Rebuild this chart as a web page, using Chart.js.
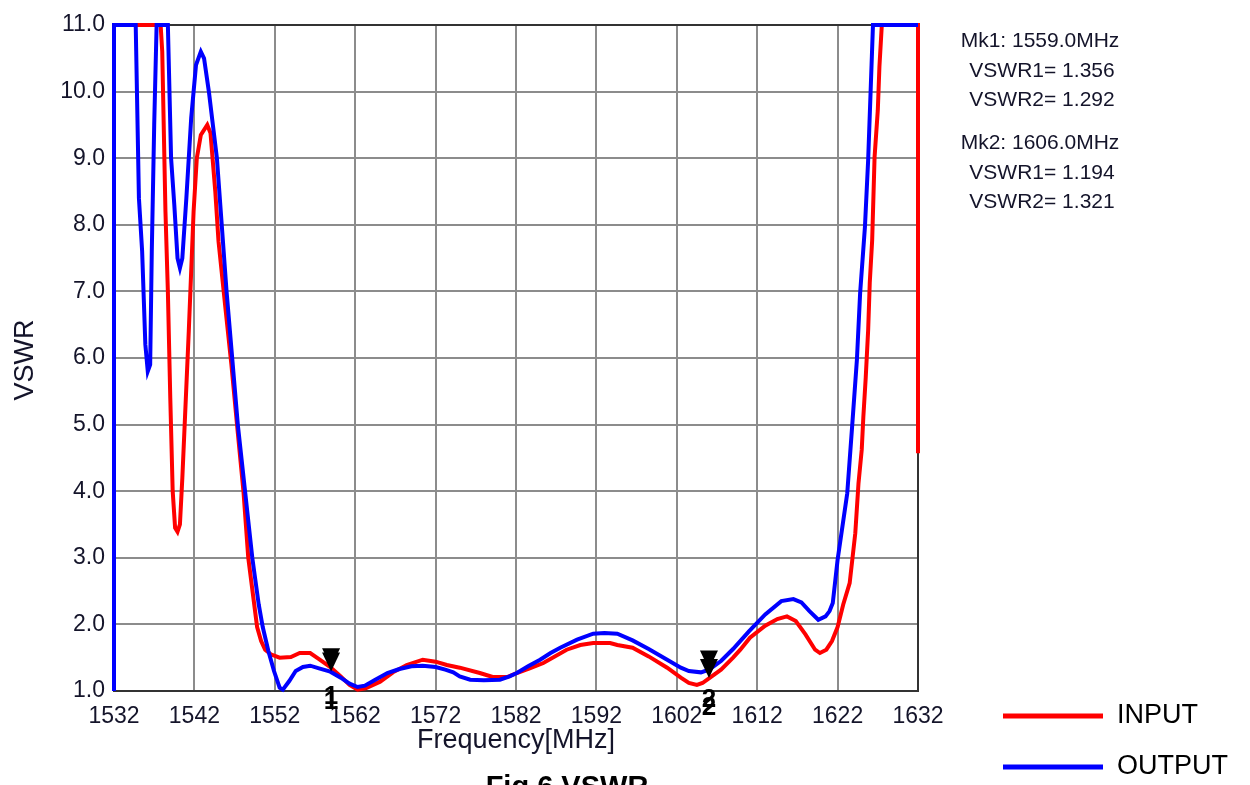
<!DOCTYPE html>
<html>
<head>
  <meta charset="UTF-8">
  <title>VSWR</title>
  <style>
    body { margin: 0; background: #fff; }
    canvas { display: block; }
  </style>
</head>
<body>
  <canvas id="vswrChart" width="1250" height="785"></canvas>

  <script src="https://cdn.jsdelivr.net/npm/chart.js"></script>
  <script>
    const freqTicks = [1532, 1542, 1552, 1562, 1572, 1582, 1592, 1602, 1612, 1622, 1632];
    const vswrTicks = [1, 2, 3, 4, 5, 6, 7, 8, 9, 10, 11];

    // INPUT trace (red)
    const inputFreq = [1532, 1537.8, 1538.0, 1538.4, 1538.7, 1539.0, 1539.3, 1539.6, 1539.9, 1540.2,
      1540.5, 1540.9, 1541.3, 1541.9, 1542.3, 1542.8, 1543.6, 1544.0, 1544.6, 1545.0,
      1545.9, 1546.6, 1547.3, 1548.1, 1548.7, 1549.8, 1550.3, 1550.8, 1551.5, 1552.6,
      1554.0, 1555.1, 1556.4, 1557.5, 1558.9, 1560.2, 1561.3, 1562.3, 1563.3, 1565.1,
      1566.7, 1568.4, 1570.4, 1572.0, 1573.4, 1575.0, 1577.5, 1579.1, 1580.9, 1582.1,
      1583.7, 1585.4, 1588.3, 1590.0, 1591.6, 1593.7, 1594.6, 1596.5, 1598.5, 1600.8,
      1602.5, 1603.5, 1604.5, 1605.2, 1606.0, 1607.5, 1609.0, 1609.9, 1611.1, 1613.0,
      1614.5, 1615.7, 1616.8, 1618.0, 1619.2, 1619.8, 1620.6, 1621.3, 1622.0, 1622.7,
      1623.5, 1624.2, 1624.6, 1625.0, 1625.2, 1625.5, 1625.8, 1626.0, 1626.3, 1626.6,
      1627.0, 1627.2, 1627.5, 1632, 1632];
    const inputVswr = [11, 11, 10.6, 8.2, 7.0, 5.4, 4.0, 3.45, 3.39, 3.5,
      4.2, 5.3, 6.4, 8.2, 9.0, 9.35, 9.5, 9.38, 8.5, 7.75,
      6.7, 5.9, 5.0, 4.0, 3.0, 1.96, 1.75, 1.62, 1.55, 1.5,
      1.51, 1.57, 1.57, 1.48, 1.36, 1.22, 1.09, 1.02, 1.04, 1.14,
      1.28, 1.39, 1.47, 1.44, 1.39, 1.35, 1.27, 1.21, 1.21, 1.27,
      1.34, 1.42, 1.62, 1.69, 1.72, 1.72, 1.69, 1.65, 1.52, 1.35,
      1.2, 1.12, 1.09, 1.12, 1.19, 1.32, 1.5, 1.62, 1.8, 1.98,
      2.08, 2.12, 2.05, 1.85, 1.62, 1.57, 1.62, 1.75, 1.96, 2.3,
      2.62, 3.37, 4.12, 4.62, 5.11, 5.71, 6.42, 7.13, 7.77, 9.02,
      9.72, 10.37, 11, 11, 4.57];

    // OUTPUT trace (blue)
    const outputFreq = [1532, 1532, 1534.7, 1535.1, 1535.5, 1535.9, 1536.2, 1536.5, 1536.7, 1537.0,
      1537.3, 1538.7, 1539.1, 1539.5, 1539.9, 1540.2, 1540.5, 1541.0, 1541.6, 1542.2,
      1542.8, 1543.2, 1543.8, 1544.3, 1544.8, 1545.4, 1546.0, 1546.7, 1547.4, 1548.3,
      1549.2, 1550.0, 1550.5, 1551.2, 1551.9, 1552.6, 1553.0, 1553.8, 1554.6, 1555.5,
      1556.4, 1557.5, 1558.9, 1560.2, 1561.3, 1562.3, 1563.2, 1564.5, 1566.0, 1567.5,
      1569.0, 1570.4, 1572.0, 1573.2, 1574.2, 1575.0, 1576.3, 1578.0, 1580.0, 1581.2,
      1582.1, 1583.5, 1585.0, 1586.3, 1587.5, 1589.6, 1591.6, 1593.0, 1594.6, 1596.5,
      1598.5, 1600.8, 1602.5, 1603.5, 1605.0, 1606.0, 1607.5, 1609.0, 1611.0, 1613.0,
      1615.0, 1616.5, 1617.5, 1618.5, 1619.6, 1620.5, 1621.0, 1621.4, 1622.0, 1623.2,
      1623.8, 1624.4, 1624.8, 1625.4, 1625.8, 1626.1, 1626.4, 1632];
    const outputVswr = [1.0, 11, 11, 8.4, 7.6, 6.2, 5.8, 5.9, 7.6, 9.5,
      11, 11, 9.0, 8.3, 7.5, 7.35, 7.5, 8.4, 9.6, 10.4,
      10.6, 10.5, 10.0, 9.5, 9.0, 8.0, 7.0, 6.0, 5.0, 4.0,
      3.0, 2.3, 1.96, 1.6, 1.3, 1.05, 1.02, 1.15, 1.3, 1.36,
      1.38, 1.34, 1.29, 1.2, 1.11, 1.06, 1.08, 1.17, 1.27, 1.33,
      1.37, 1.38, 1.36, 1.32, 1.28, 1.22, 1.17, 1.16, 1.17, 1.22,
      1.27, 1.37, 1.47, 1.57, 1.65, 1.77, 1.86, 1.87, 1.86, 1.76,
      1.63, 1.47, 1.35, 1.3, 1.28, 1.32, 1.45, 1.63, 1.9, 2.15,
      2.35, 2.38, 2.33, 2.2, 2.07, 2.12, 2.2, 2.32, 2.97, 3.97,
      4.96, 5.97, 6.97, 7.97, 8.97, 9.98, 11, 11];

    // markers: frequency, VSWR1 (input), VSWR2 (output)
    const markerFreq = [1559.0, 1606.0];
    const markerVswr1 = [1.356, 1.194];
    const markerVswr2 = [1.292, 1.321];

    const seriesNames = ["INPUT", "OUTPUT"];
    const seriesColors = ["#ff0000", "#0000ff"];

    const fontFamily = "'Liberation Sans', Arial, sans-serif";
    const textColor = "#14142a";

    function toPoints(xs, ys) {
      return xs.map((x, i) => ({ x: x, y: ys[i] }));
    }

    const extras = {
      id: "extras",
      beforeDatasetsDraw(chart) {
        const ctx = chart.ctx;
        const a = chart.chartArea;
        ctx.save();
        ctx.strokeStyle = "#333";
        ctx.lineWidth = 2;
        ctx.strokeRect(a.left, a.top, a.right - a.left, a.bottom - a.top);
        ctx.restore();
      },
      afterDraw(chart) {
        const ctx = chart.ctx;
        const xs = chart.scales.x;
        const ys = chart.scales.y;
        ctx.save();

        // marker triangles and numbers
        markerFreq.forEach((f, i) => {
          const px = xs.getPixelForValue(f);
          [markerVswr1[i], markerVswr2[i]].forEach((v) => {
            const py = ys.getPixelForValue(v);
            ctx.fillStyle = "#000";
            ctx.beginPath();
            ctx.moveTo(px - 9, py - 19);
            ctx.lineTo(px + 9, py - 19);
            ctx.lineTo(px, py);
            ctx.closePath();
            ctx.fill();
            ctx.font = "bold 26px " + fontFamily;
            ctx.textAlign = "center";
            ctx.textBaseline = "top";
            ctx.fillText(String(i + 1), px, py + 17);
          });
        });

        // marker readout on the right
        ctx.fillStyle = textColor;
        ctx.textAlign = "center";
        ctx.textBaseline = "middle";
        ctx.font = "21px " + fontFamily;
        markerFreq.forEach((f, i) => {
          const y0 = 41 + i * 102;
          ctx.fillText("Mk" + (i + 1) + ": " + f.toFixed(1) + "MHz", 1040, y0);
          ctx.fillText("VSWR1= " + markerVswr1[i].toFixed(3), 1042, y0 + 30);
          ctx.fillText("VSWR2= " + markerVswr2[i].toFixed(3), 1042, y0 + 59);
        });

        // axis titles
        ctx.fillStyle = textColor;
        ctx.font = "27px " + fontFamily;
        ctx.fillText("Frequency[MHz]", (chart.chartArea.left + chart.chartArea.right) / 2, 741);
        ctx.save();
        ctx.translate(26, 360);
        ctx.rotate(-Math.PI / 2);
        ctx.fillText("VSWR", 0, 0);
        ctx.restore();

        // legend
        seriesNames.forEach((name, i) => {
          const y = 716 + i * 51;
          ctx.strokeStyle = seriesColors[i];
          ctx.lineWidth = 5;
          ctx.beginPath();
          ctx.moveTo(1003, y);
          ctx.lineTo(1103, y);
          ctx.stroke();
          ctx.fillStyle = "#000";
          ctx.textAlign = "left";
          ctx.font = "27px " + fontFamily;
          ctx.fillText(name, 1117, y);
        });

        // figure caption (cut off at the bottom)
        ctx.fillStyle = "#000";
        ctx.textAlign = "center";
        ctx.textBaseline = "alphabetic";
        ctx.font = "bold 29px " + fontFamily;
        ctx.fillText("Fig.6 VSWR", 567, 796);

        ctx.restore();
      }
    };

    new Chart(document.getElementById("vswrChart").getContext("2d"), {
      type: "line",
      data: {
        datasets: [
          {
            label: seriesNames[0],
            data: toPoints(inputFreq, inputVswr),
            borderColor: seriesColors[0],
            backgroundColor: seriesColors[0],
            borderWidth: 4,
            pointRadius: 0,
            tension: 0,
            clip: 6,
            order: 2,
          },
          {
            label: seriesNames[1],
            data: toPoints(outputFreq, outputVswr),
            borderColor: seriesColors[1],
            backgroundColor: seriesColors[1],
            borderWidth: 4,
            pointRadius: 0,
            tension: 0,
            clip: 6,
            order: 1,
          },
        ],
      },
      options: {
        responsive: false,
        animation: false,
        devicePixelRatio: 1,
        layout: { padding: { left: 0, top: 25, right: 332, bottom: 0 } },
        plugins: {
          legend: { display: false },
          tooltip: { enabled: false },
        },
        scales: {
          x: {
            type: "linear",
            min: 1532,
            max: 1632,
            afterBuildTicks: (s) => { s.ticks = freqTicks.map((v) => ({ value: v })); },
            afterFit: (s) => { s.height = 94; },
            ticks: {
              font: { size: 23, family: fontFamily },
              color: textColor,
              padding: 12,
              maxRotation: 0,
              autoSkip: false,
              callback: (v) => String(v),
            },
            grid: { color: "#8c8c8c", lineWidth: 2, drawTicks: false },
            border: { color: "#333", width: 2 },
          },
          y: {
            type: "linear",
            min: 1,
            max: 11,
            afterBuildTicks: (s) => { s.ticks = vswrTicks.map((v) => ({ value: v })); },
            afterFit: (s) => { s.width = 114; },
            ticks: {
              font: { size: 23, family: fontFamily },
              color: textColor,
              padding: 9,
              autoSkip: false,
              callback: (v) => Number(v).toFixed(1),
            },
            grid: { color: "#8c8c8c", lineWidth: 2, drawTicks: false },
            border: { color: "#333", width: 2 },
          },
        },
      },
      plugins: [extras],
    });
  </script>
</body>
</html>
